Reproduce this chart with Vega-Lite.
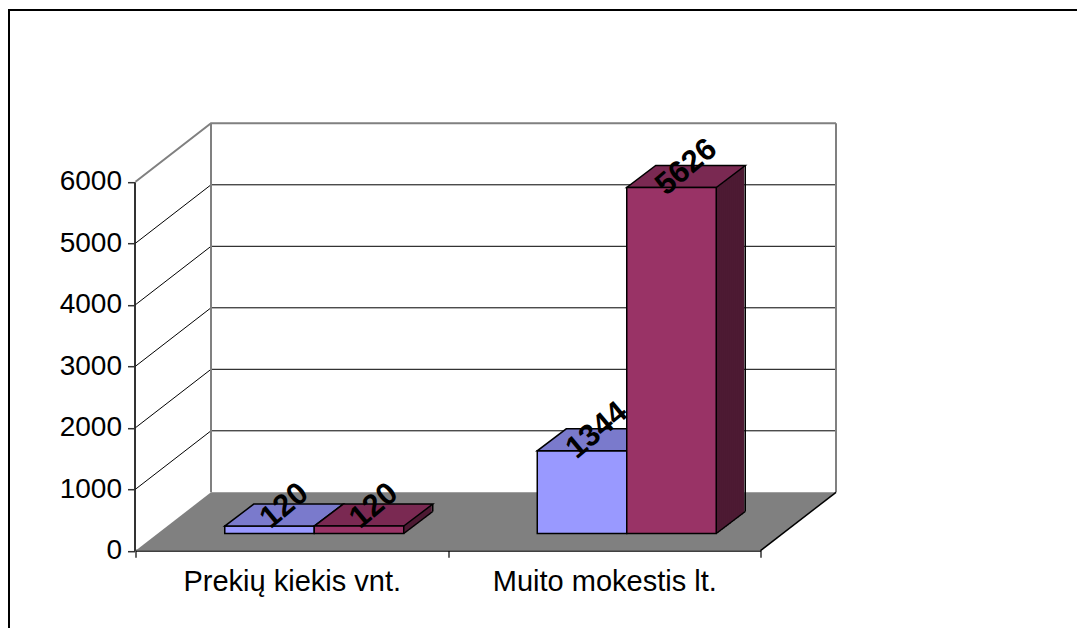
{
  "$schema": "https://vega.github.io/schema/vega-lite/v6.json",
  "width": 1080,
  "height": 640,
  "autosize": {"type": "none"},
  "padding": {"left": 9, "top": 10, "right": 0, "bottom": 0},
  "background": "white",
  "config": {"view": {"stroke": "#000000", "strokeWidth": 2}, "font": "Liberation Sans"},
  "datasets": {
    "bars": [
      {"category": "Prekių kiekis vnt.", "series": "S1", "value": 120},
      {"category": "Prekių kiekis vnt.", "series": "S2", "value": 120},
      {"category": "Muito mokestis lt.", "series": "S1", "value": 1344},
      {"category": "Muito mokestis lt.", "series": "S2", "value": 5626}
    ],
    "levels": [{"v": 1000}, {"v": 2000}, {"v": 3000}, {"v": 4000}, {"v": 5000}]
  },
  "data": {"name": "bars"},
  "layer": [
    {
      "data": {"name": "levels"},
      "mark": {"type": "point", "shape": "M-22.5,17.2L53,-41.2L678,-41.2", "size": 4, "filled": false, "color": "#000000", "strokeWidth": 1, "opacity": 1},
      "encoding": {
        "x": {
          "datum": "Prekių kiekis vnt.", "type": "nominal", "bandPosition": 0,
          "scale": {"type": "band", "domain": ["Prekių kiekis vnt.", "Muito mokestis lt."], "range": [149, 774], "paddingInner": 0, "paddingOuter": 0},
          "axis": {"orient": "bottom", "title": null, "offset": -99.8, "position": -22.5, "tickBand": "extent", "domainColor": "#000000", "domainWidth": 2, "tickColor": "#333333", "tickWidth": 1.5, "tickSize": 7, "labelFontSize": 29, "labelColor": "#000000", "labelPadding": 10, "labelAngle": 0, "labelLimit": 400, "grid": false}
        },
        "y": {
          "field": "v", "type": "quantitative",
          "scale": {"domain": [0, 6000], "range": [523.5, 154.5], "nice": false, "zero": true},
          "axis": {"orient": "left", "title": null, "values": [0, 1000, 2000, 3000, 4000, 5000, 6000], "format": "d", "offset": -125.5, "position": 17.2, "domainColor": "#333333", "domainWidth": 2, "tickColor": "#333333", "tickWidth": 1.5, "tickSize": 7, "labelFontSize": 28, "labelColor": "#000000", "labelPadding": 6, "labelFlush": false, "labelOverlap": false, "grid": false}
        }
      }
    },
    {
      "data": {"values": [{}]},
      "mark": {"type": "point", "shape": "M-22.5,17.2L53,-41.2L678,-41.2", "size": 4, "filled": false, "color": "#808080", "strokeWidth": 2, "opacity": 1},
      "encoding": {
        "x": {"datum": "Prekių kiekis vnt.", "type": "nominal", "bandPosition": 0},
        "y": {"datum": 6000, "type": "quantitative"}
      }
    },
    {
      "data": {"values": [{}]},
      "encoding": {
        "x": {"datum": "Prekių kiekis vnt.", "type": "nominal", "bandPosition": 0},
        "y": {"datum": 0, "type": "quantitative"},
        "y2": {"datum": 6000}
      },
      "layer": [
        {"mark": {"type": "rule", "color": "#808080", "strokeWidth": 2, "xOffset": 53, "yOffset": -41.2, "y2Offset": -41.2}},
        {"mark": {"type": "rule", "color": "#808080", "strokeWidth": 2, "xOffset": 678, "yOffset": -41.2, "y2Offset": -41.2}}
      ]
    },
    {
      "data": {"values": [{}]},
      "encoding": {
        "x": {"datum": "Prekių kiekis vnt.", "type": "nominal", "bandPosition": 0},
        "y": {"datum": 0, "type": "quantitative"}
      },
      "layer": [
        {"mark": {"type": "point", "shape": "M-22.5,17.2L602.5,17.2L678,-41.2L53,-41.2Z", "size": 4, "filled": true, "color": "#808080", "strokeWidth": 0, "opacity": 1}},
        {"mark": {"type": "point", "shape": "M602.5,17.2L678,-41.2", "size": 4, "filled": false, "color": "#000000", "strokeWidth": 1.5, "opacity": 1}}
      ]
    },
    {
      "transform": [{"filter": "datum.series === 'S1'"}],
      "encoding": {
        "x": {"field": "category", "type": "nominal"},
        "xOffset": {"field": "series", "type": "nominal", "scale": {"domain": ["S1", "S2"], "paddingInner": 0, "paddingOuter": 0.746}},
        "y": {"field": "value", "type": "quantitative"}
      },
      "layer": [
        {"mark": {"type": "bar", "color": "#9999FF", "stroke": "#000000", "strokeWidth": 1.5}},
        {"mark": {"type": "point", "shape": "M-44.75,0L44.75,0L73.75,-22L-15.75,-22Z", "size": 4, "filled": true, "color": "#7A7ACC", "stroke": "#000000", "strokeWidth": 1.5, "opacity": 1}}
      ]
    },
    {
      "transform": [{"filter": "datum.series === 'S2'"}],
      "encoding": {
        "x": {"field": "category", "type": "nominal", "bandPosition": 0},
        "y": {"field": "value", "type": "quantitative"},
        "y2": {"datum": 0}
      },
      "layer": [
        {"mark": {"type": "rule", "color": "#4D1A33", "strokeWidth": 3, "xOffset": 246.75, "yOffset": -0.76, "y2Offset": -0.76}},
        {"mark": {"type": "rule", "color": "#4D1A33", "strokeWidth": 3, "xOffset": 248.75, "yOffset": -2.28, "y2Offset": -2.28}},
        {"mark": {"type": "rule", "color": "#4D1A33", "strokeWidth": 3, "xOffset": 250.75, "yOffset": -3.79, "y2Offset": -3.79}},
        {"mark": {"type": "rule", "color": "#4D1A33", "strokeWidth": 3, "xOffset": 252.75, "yOffset": -5.31, "y2Offset": -5.31}},
        {"mark": {"type": "rule", "color": "#4D1A33", "strokeWidth": 3, "xOffset": 254.75, "yOffset": -6.83, "y2Offset": -6.83}},
        {"mark": {"type": "rule", "color": "#4D1A33", "strokeWidth": 3, "xOffset": 256.75, "yOffset": -8.34, "y2Offset": -8.34}},
        {"mark": {"type": "rule", "color": "#4D1A33", "strokeWidth": 3, "xOffset": 258.75, "yOffset": -9.86, "y2Offset": -9.86}},
        {"mark": {"type": "rule", "color": "#4D1A33", "strokeWidth": 3, "xOffset": 260.75, "yOffset": -11.38, "y2Offset": -11.38}},
        {"mark": {"type": "rule", "color": "#4D1A33", "strokeWidth": 3, "xOffset": 262.75, "yOffset": -12.9, "y2Offset": -12.9}},
        {"mark": {"type": "rule", "color": "#4D1A33", "strokeWidth": 3, "xOffset": 264.75, "yOffset": -14.41, "y2Offset": -14.41}},
        {"mark": {"type": "rule", "color": "#4D1A33", "strokeWidth": 3, "xOffset": 266.75, "yOffset": -15.93, "y2Offset": -15.93}},
        {"mark": {"type": "rule", "color": "#4D1A33", "strokeWidth": 3, "xOffset": 268.75, "yOffset": -17.45, "y2Offset": -17.45}},
        {"mark": {"type": "rule", "color": "#4D1A33", "strokeWidth": 3, "xOffset": 270.75, "yOffset": -18.97, "y2Offset": -18.97}},
        {"mark": {"type": "rule", "color": "#4D1A33", "strokeWidth": 2.4, "xOffset": 272.55, "yOffset": -20.48, "y2Offset": -20.48}},
        {"mark": {"type": "rule", "color": "#000000", "strokeWidth": 1.5, "xOffset": 274.75, "yOffset": -22, "y2Offset": -22}}
      ]
    },
    {
      "transform": [{"filter": "datum.series === 'S2'"}],
      "encoding": {
        "x": {"field": "category", "type": "nominal"},
        "xOffset": {"field": "series", "type": "nominal"}
      },
      "layer": [
        {
          "mark": {"type": "point", "shape": "M44.75,0L73.75,-22", "size": 4, "filled": false, "color": "#000000", "strokeWidth": 1.5, "opacity": 1},
          "encoding": {"y": {"datum": 0, "type": "quantitative"}}
        },
        {
          "mark": {"type": "point", "shape": "M-44.75,0L44.75,0L73.75,-22L-15.75,-22Z", "size": 4, "filled": true, "color": "#7A2952", "stroke": "#000000", "strokeWidth": 1.5, "opacity": 1},
          "encoding": {"y": {"field": "value", "type": "quantitative"}}
        },
        {
          "mark": {"type": "bar", "color": "#993366", "stroke": "#000000", "strokeWidth": 1.5},
          "encoding": {"y": {"field": "value", "type": "quantitative"}}
        }
      ]
    },
    {
      "mark": {"type": "text", "angle": 320, "fontSize": 31, "fontWeight": "bold", "align": "center", "baseline": "middle", "dx": 24.4, "dy": -5.7, "color": "#000000"},
      "encoding": {
        "x": {"field": "category", "type": "nominal"},
        "xOffset": {"field": "series", "type": "nominal"},
        "y": {"field": "value", "type": "quantitative"},
        "text": {"field": "value", "type": "quantitative", "format": "d"}
      }
    }
  ]
}
